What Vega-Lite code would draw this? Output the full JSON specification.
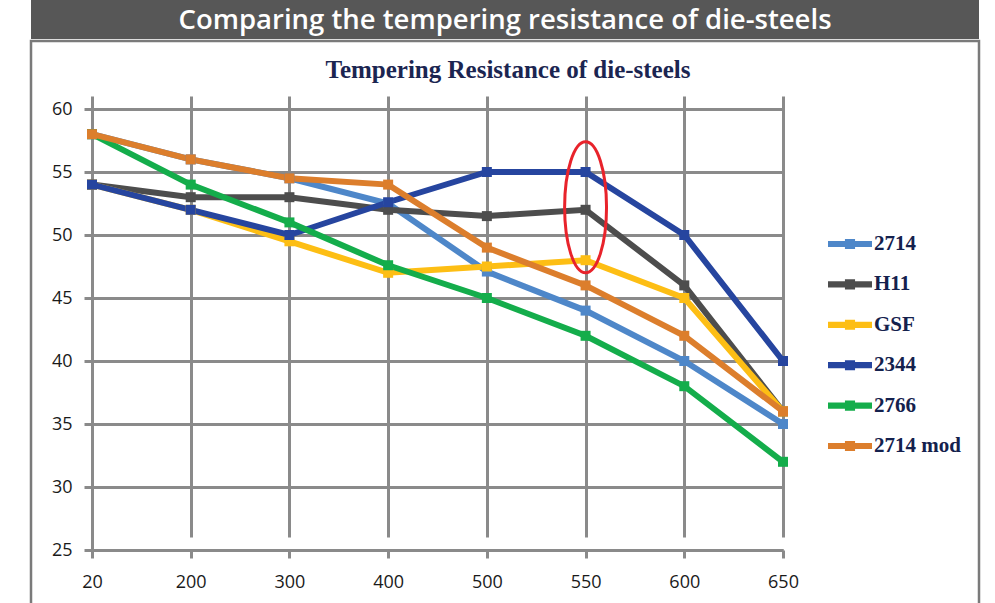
{
  "$schema": "https://vega.github.io/schema/vega-lite/v6.json",
  "padding": {"left": 29, "top": 0, "right": 0, "bottom": 0},
  "background": "white",
  "spacing": 0,
  "config": {"view": {"stroke": null}},
  "vconcat": [
    {
      "width": 948,
      "height": 39,
      "view": {"fill": "#575757", "stroke": null},
      "data": {"values": [{"banner": "Comparing the tempering resistance of die-steels"}]},
      "mark": {"type": "text", "font": "Open Sans", "fontWeight": 600, "fontSize": 27.5, "color": "#ffffff", "baseline": "middle", "align": "center", "dy": 1},
      "encoding": {"text": {"field": "banner"}}
    },
    {
      "width": 948,
      "height": 564,
      "view": {"fill": "#ffffff", "stroke": "#7a7a7a", "strokeWidth": 2.5},
      "title": {"text": "Tempering Resistance of die-steels", "font": "Liberation Serif", "fontSize": 25, "fontWeight": "bold", "color": "#1B2551", "anchor": "middle", "frame": "group", "offset": -42, "dx": 3},
      "data": {"values": [
        {"T": "20", "Steel": "2714", "HRC": 58},
        {"T": "200", "Steel": "2714", "HRC": 56},
        {"T": "300", "Steel": "2714", "HRC": 54.5},
        {"T": "400", "Steel": "2714", "HRC": 52.5},
        {"T": "500", "Steel": "2714", "HRC": 47.1},
        {"T": "550", "Steel": "2714", "HRC": 44},
        {"T": "600", "Steel": "2714", "HRC": 40},
        {"T": "650", "Steel": "2714", "HRC": 35},
        {"T": "20", "Steel": "H11", "HRC": 54},
        {"T": "200", "Steel": "H11", "HRC": 53},
        {"T": "300", "Steel": "H11", "HRC": 53},
        {"T": "400", "Steel": "H11", "HRC": 52},
        {"T": "500", "Steel": "H11", "HRC": 51.5},
        {"T": "550", "Steel": "H11", "HRC": 52},
        {"T": "600", "Steel": "H11", "HRC": 46},
        {"T": "650", "Steel": "H11", "HRC": 36},
        {"T": "20", "Steel": "GSF", "HRC": 54},
        {"T": "200", "Steel": "GSF", "HRC": 52},
        {"T": "300", "Steel": "GSF", "HRC": 49.5},
        {"T": "400", "Steel": "GSF", "HRC": 47},
        {"T": "500", "Steel": "GSF", "HRC": 47.5},
        {"T": "550", "Steel": "GSF", "HRC": 48},
        {"T": "600", "Steel": "GSF", "HRC": 45},
        {"T": "650", "Steel": "GSF", "HRC": 36},
        {"T": "20", "Steel": "2344", "HRC": 54},
        {"T": "200", "Steel": "2344", "HRC": 52},
        {"T": "300", "Steel": "2344", "HRC": 50},
        {"T": "400", "Steel": "2344", "HRC": 52.6},
        {"T": "500", "Steel": "2344", "HRC": 55},
        {"T": "550", "Steel": "2344", "HRC": 55},
        {"T": "600", "Steel": "2344", "HRC": 50},
        {"T": "650", "Steel": "2344", "HRC": 40},
        {"T": "20", "Steel": "2766", "HRC": 58},
        {"T": "200", "Steel": "2766", "HRC": 54},
        {"T": "300", "Steel": "2766", "HRC": 51},
        {"T": "400", "Steel": "2766", "HRC": 47.6},
        {"T": "500", "Steel": "2766", "HRC": 45},
        {"T": "550", "Steel": "2766", "HRC": 42},
        {"T": "600", "Steel": "2766", "HRC": 38},
        {"T": "650", "Steel": "2766", "HRC": 32},
        {"T": "20", "Steel": "2714 mod", "HRC": 58},
        {"T": "200", "Steel": "2714 mod", "HRC": 56},
        {"T": "300", "Steel": "2714 mod", "HRC": 54.5},
        {"T": "400", "Steel": "2714 mod", "HRC": 54},
        {"T": "500", "Steel": "2714 mod", "HRC": 49},
        {"T": "550", "Steel": "2714 mod", "HRC": 46},
        {"T": "600", "Steel": "2714 mod", "HRC": 42},
        {"T": "650", "Steel": "2714 mod", "HRC": 36}
      ]},
      "encoding": {
        "x": {
          "field": "T", "type": "ordinal",
          "sort": ["20", "200", "300", "400", "500", "550", "600", "650"],
          "scale": {"type": "point", "padding": 0, "range": [61, 752]},
          "axis": {"title": null, "labelAngle": 0, "offset": -55, "grid": true, "gridColor": "#8a8a8a", "gridWidth": 3, "domainColor": "#8a8a8a", "domainWidth": 3, "tickColor": "#8a8a8a", "tickWidth": 3, "tickSize": 8, "labelPadding": 15, "labelFont": "Open Sans", "labelFontSize": 18, "labelColor": "#1a1a1a"}
        },
        "y": {
          "field": "HRC", "type": "quantitative",
          "scale": {"domain": [25, 60], "nice": false, "zero": false, "range": [509, 68]},
          "axis": {"title": null, "values": [25, 30, 35, 40, 45, 50, 55, 60], "offset": -61, "grid": true, "gridColor": "#8a8a8a", "gridWidth": 3, "domainColor": "#8a8a8a", "domainWidth": 3, "tickColor": "#8a8a8a", "tickWidth": 3, "tickSize": 8, "labelPadding": 12, "labelFont": "Open Sans", "labelFontSize": 18, "labelColor": "#1a1a1a"}
        }
      },
      "layer": [
        {
          "mark": {"type": "line", "strokeWidth": 6},
          "encoding": {
            "color": {
              "field": "Steel", "type": "nominal",
              "scale": {"domain": ["2714", "H11", "GSF", "2344", "2766", "2714 mod"], "range": ["#4E87C9", "#4D4D4D", "#FDBE14", "#26459F", "#14AD4B", "#DC7E2C"]},
              "legend": {
                "title": null, "orient": "none", "legendX": 797, "legendY": 222, "padding": 0,
                "symbolType": "M-1,-0.14L1,-0.14L1,0.14L-1,0.14Z M-0.23,-0.23L0.23,-0.23L0.23,0.23L-0.23,0.23Z",
                "symbolSize": 1936, "symbolStrokeWidth": 0, "labelOffset": 2, "rowPadding": 8.4,
                "labelFont": "Liberation Serif", "labelFontWeight": "bold", "labelFontSize": 21, "labelColor": "#14214D",
                "encode": {"symbols": {"update": {"fill": {"scale": "color", "field": "value"}, "opacity": {"value": 1}, "fillOpacity": {"value": 1}}}}
              }
            }
          }
        },
        {
          "mark": {"type": "point", "shape": "square", "filled": true, "size": 100, "opacity": 1},
          "encoding": {
            "color": {"field": "Steel", "type": "nominal"}
          }
        },
        {
          "data": {"values": [{"T": "550", "HRC": 52.2}]},
          "mark": {"type": "point", "shape": "M0,-1A0.32,1 0 1 1 0,1A0.32,1 0 1 1 0,-1Z", "filled": false, "size": 17161, "stroke": "#E8232B", "strokeWidth": 3, "opacity": 1},
          "encoding": {}
        }
      ]
    }
  ]
}
